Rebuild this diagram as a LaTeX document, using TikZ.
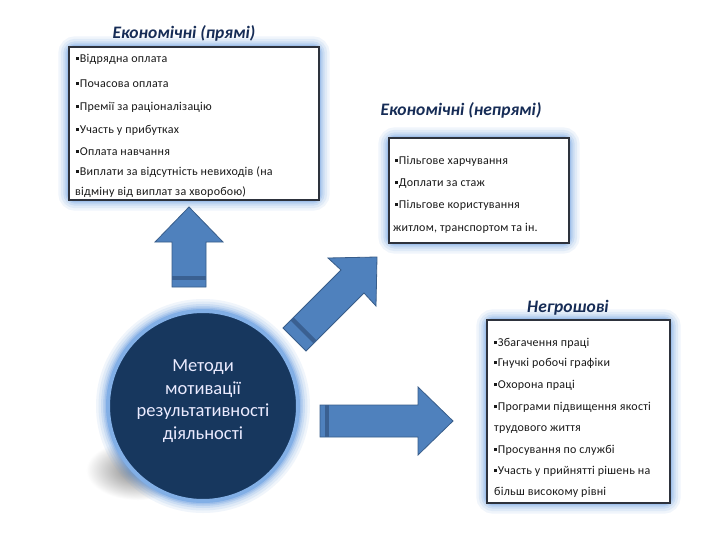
\documentclass[tikz,border=0pt]{standalone}
\usepackage{fontspec}
\setmainfont{Carlito}
\newfontfamily\itemfont{Carlito}[LetterSpace=2]
\usetikzlibrary{backgrounds,calc}
\definecolor{arrowblue}{RGB}{79,129,189}
\definecolor{arrowdark}{RGB}{56,93,138}
\definecolor{bandblue}{RGB}{58,96,145}
\definecolor{glowblue}{RGB}{110,160,225}
\definecolor{circfill}{RGB}{23,55,94}
\definecolor{ringblue}{RGB}{130,175,230}
\definecolor{titlecol}{RGB}{22,44,86}
\definecolor{txtcol}{RGB}{25,25,25}
\definecolor{boxline}{RGB}{45,50,60}
\newcommand{\bul}{\rule[0.2em]{0.26em}{0.26em}\kern0.05em}
\tikzset{
  itembox/.style={draw=boxline, line width=1.3pt, fill=white, inner sep=0},
  itemtxt/.style={anchor=base west, inner sep=0, text=txtcol, font=\itemfont\fontsize{12}{14}\selectfont},
  ttl/.style={inner sep=0, text=titlecol, font=\fontsize{17.5}{20}\selectfont\bfseries\itshape},
  bigarrow/.style={fill=arrowblue, draw=arrowdark, line width=0.8pt, line join=miter},
  band/.style={fill=bandblue, draw=none}
}
\begin{document}
\begin{tikzpicture}[x=1pt,y=-1pt]
\useasboundingbox (0,0) rectangle (720,540);

% boxes
\node[itembox, minimum width=250, minimum height=153] (b1) at (194,123.5) {};
\node[itembox, minimum width=180, minimum height=105] (b2) at (479,190.5) {};
\node[itembox, minimum width=183, minimum height=183] (b3) at (578.5,411.5) {};

% circle
\node[circle, fill=circfill, draw=ringblue, line width=4pt, minimum size=190, inner sep=0] (c) at (203,406) {};

\begin{scope}[on background layer]
  \fill[white] (0,0) rectangle (720,540);
  % shadow of circle
  \shade[inner color=black!50, outer color=white] (138,470) ellipse (52 and 30);
  % glows
  \foreach \w/\o in {20/0.10,15/0.13,10/0.17,6/0.22,3/0.3} {
    \draw[glowblue, line width=\w, opacity=\o, rounded corners=7]
      (b1.south west) rectangle (b1.north east);
    \draw[glowblue, line width=\w, opacity=\o, rounded corners=7]
      (b2.south west) rectangle (b2.north east);
    \draw[glowblue, line width=\w, opacity=\o, rounded corners=7]
      (b3.south west) rectangle (b3.north east);
    \draw[glowblue, line width=\w, opacity=\o] (c.center) circle (97);
  }
\end{scope}

% titles
\node[ttl] (t1) at (184,33) {Економічні (прямі)};
\node[ttl] (t2) at (461,110) {Економічні (непрямі)};
\node[ttl] (t3) at (568,308) {Негрошові};

% box 1 text
\node[itemtxt] (a1) at (76,62.5) {\bul Відрядна оплата};
\node[itemtxt] (a2) at (76,87.5) {\bul Почасова оплата};
\node[itemtxt] (a3) at (76,110.5) {\bul Премії за раціоналізацію};
\node[itemtxt] (a4) at (76,133.5) {\bul Участь у прибутках};
\node[itemtxt] (a5) at (76,155.5) {\bul Оплата навчання};
\node[itemtxt] (a6) at (76,175.5) {\bul Виплати за відсутність невиходів (на};
\node[itemtxt] (a7) at (75,195.5) {відміну від виплат за хворобою)};

% box 2 text
\node[itemtxt] (n1) at (395,164.5) {\bul Пільгове харчування};
\node[itemtxt] (n2) at (395,186.5) {\bul Доплати за стаж};
\node[itemtxt] (n3) at (395,208.5) {\bul Пільгове користування};
\node[itemtxt] (n4) at (393,231.5) {житлом, транспортом та ін.};

% box 3 text
\node[itemtxt] (g1) at (494,346.5) {\bul Збагачення праці};
\node[itemtxt] (g2) at (494,366.5) {\bul Гнучкі робочі графіки};
\node[itemtxt] (g3) at (494,388.5) {\bul Охорона праці};
\node[itemtxt] (g4) at (494,410.5) {\bul Програми підвищення якості};
\node[itemtxt] (g5) at (494,431.5) {трудового життя};
\node[itemtxt] (g6) at (494,453.5) {\bul Просування по службі};
\node[itemtxt] (g7) at (494,474.5) {\bul Участь у прийнятті рішень на};
\node[itemtxt] (g8) at (494,495.5) {більш високому рівні};

% circle text
\node[text=white!92!blue, align=center, inner sep=0,
      font=\fontsize{18.5}{22.5}\selectfont] (ct) at (203,401)
  {Методи\\мотивації\\результативності\\діяльності};

% up arrow
\draw[bigarrow] (172,287) -- (172,242) -- (155,242) -- (189,207) -- (223,242)
  -- (206,242) -- (206,287) -- cycle;
\fill[band] (172.4,276) rectangle (205.6,280);

% diagonal arrow
\draw[bigarrow] (283,328) -- (341,270) -- (328,258) -- (377,257) -- (376,306)
  -- (364,293) -- (306,351) -- cycle;
\fill[band] (290.5,320.5) -- (313.5,343.5) -- (316.5,340.5) -- (293.5,317.5) -- cycle;

% right arrow
\draw[bigarrow] (320,405) -- (418,405) -- (418,387) -- (453,421) -- (418,455)
  -- (418,437) -- (320,437) -- cycle;
\fill[band] (325,405.4) rectangle (329,436.6);
\end{tikzpicture}
\end{document}
